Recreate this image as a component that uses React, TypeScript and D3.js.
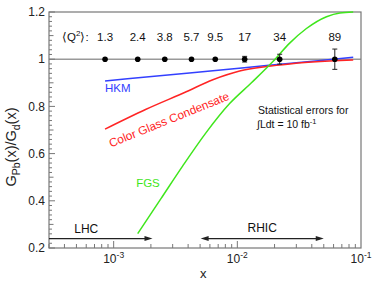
import React, { useRef, useEffect } from 'react';
import * as d3 from 'd3';

const width = 374;
const height = 282;
const margins = { top: 12, right: 13, bottom: 34, left: 49 };
const font = 'Liberation Sans, Arial, Helvetica, sans-serif';

// measured points, one per <Q^2> bin
const pointX = [8.52e-4, 1.565e-3, 2.59e-3, 4.26e-3, 6.63e-3, 0.01146, 0.022, 0.0614];
const pointY = [1, 1, 1, 1, 1, 1, 1, 1];
const pointErr = [0.003, 0.004, 0.005, 0.007, 0.009, 0.012, 0.021, 0.043];
const q2Labels = ['1.3', '2.4', '3.8', '5.7', '9.5', '17', '34', '89'];

// model curves
const hkmX = [8.52e-4, 4.1e-3, 0.0172, 0.0865];
const hkmY = [0.908, 0.942, 0.973, 1.008];

const cgcX = [8.52e-4, 1.81e-3, 3.86e-3, 6.34e-3, 0.01044, 0.01718, 0.02653, 0.0606, 0.0865];
const cgcY = [0.704, 0.787, 0.862, 0.913, 0.95, 0.969, 0.98, 0.993, 0.997];

const fgsX = [1.565e-3, 2.42e-3, 3.62e-3, 5.61e-3, 8.66e-3, 0.013, 0.0194, 0.0265, 0.0362, 0.0526, 0.0675, 0.0865];
const fgsY = [0.261, 0.41, 0.548, 0.69, 0.812, 0.9, 0.99, 1.068, 1.13, 1.18, 1.196, 1.2];

// kinematic ranges
const lhcRange = [3e-4, 2.06e-3];
const rhicRange = [5.05e-3, 0.05];
const rangeY = 0.24;

const yTicks = [0.2, 0.4, 0.6, 0.8, 1, 1.2];
const yTickLabels = ['0.2', '0.4', '0.6', '0.8', '1', '1.2'];
const xTicks = [1e-3, 1e-2, 1e-1];
const xTickExps = ['-3', '-2', '-1'];

const blue = '#3340ff';
const red = '#ff2424';
const green = '#3fe61c';

export default function App() {
  const ref = useRef(null);

  useEffect(() => {
    if (!ref.current) return;
    const svg = d3.select(ref.current);
    svg.selectAll('*').remove();

    const x0 = margins.left;
    const x1 = width - margins.right;
    const y0 = height - margins.bottom;
    const y1 = margins.top;

    const x = d3.scaleLog().domain([3e-4, 0.1]).range([x0, x1]);
    const y = d3.scaleLinear().domain([0.2, 1.2]).range([y0, y1]);

    const g = svg.append('g').style('font-family', font);

    // unity line
    g.append('line')
      .attr('x1', x0).attr('x2', x1)
      .attr('y1', y(1)).attr('y2', y(1))
      .attr('stroke', '#999').attr('stroke-width', 1.5);

    // frame
    g.append('rect')
      .attr('x', x0).attr('y', y1)
      .attr('width', x1 - x0).attr('height', y0 - y1)
      .attr('fill', 'none').attr('stroke', '#777').attr('stroke-width', 1.2);

    // y ticks (inward)
    const yMinor = d3.range(0.2, 1.2001, 0.02);
    yMinor.forEach((v) => {
      const k = Math.round(v * 50);
      const len = k % 10 === 0 ? 6 : k % 5 === 0 ? 4.5 : 3;
      g.append('line')
        .attr('x1', x0).attr('x2', x0 + len)
        .attr('y1', y(v)).attr('y2', y(v))
        .attr('stroke', '#777').attr('stroke-width', 1);
    });
    yTicks.forEach((v, i) => {
      g.append('text')
        .attr('x', x0 - 4).attr('y', y(v) + 4.2)
        .attr('text-anchor', 'end').attr('font-size', 12)
        .attr('fill', '#222')
        .text(yTickLabels[i]);
    });

    // x ticks (inward)
    const xMinor: number[] = [];
    [1e-4, 1e-3, 1e-2].forEach((d) => {
      for (let m = 1; m <= 9; m++) {
        const v = d * m;
        if (v >= 3e-4 && v <= 0.1) xMinor.push(v);
      }
    });
    xMinor.forEach((v) => {
      const major = Math.abs(Math.log10(v) - Math.round(Math.log10(v))) < 1e-6;
      g.append('line')
        .attr('x1', x(v)).attr('x2', x(v))
        .attr('y1', y0).attr('y2', y0 - (major ? 7 : 4))
        .attr('stroke', '#777').attr('stroke-width', 1);
    });
    xTicks.forEach((v, i) => {
      const t = g.append('text')
        .attr('x', x(v)).attr('y', y0 + 15)
        .attr('text-anchor', 'middle').attr('font-size', 12)
        .attr('fill', '#222');
      t.append('tspan').text('10');
      t.append('tspan').attr('font-size', 8.5).attr('dy', -5).text(xTickExps[i]);
    });

    // axis titles
    g.append('text')
      .attr('x', x(5.3e-3)).attr('y', height - 4)
      .attr('text-anchor', 'middle').attr('font-size', 13)
      .attr('fill', '#222').text('x');

    const yl = g.append('text')
      .attr('transform', `translate(16,147) rotate(-90)`)
      .attr('text-anchor', 'middle').attr('font-size', 14.5)
      .attr('fill', '#222');
    yl.append('tspan').text('G');
    yl.append('tspan').attr('font-size', 10.5).attr('dy', 4).text('Pb');
    yl.append('tspan').attr('dy', -4).text('(x)/G');
    yl.append('tspan').attr('font-size', 10.5).attr('dy', 4).text('d');
    yl.append('tspan').attr('dy', -4).text('(x)');

    // curves
    const line = d3.line<[number, number]>()
      .x((d) => x(d[0]))
      .y((d) => y(d[1]))
      .curve(d3.curveMonotoneX);

    const curves = [
      { xs: hkmX, ys: hkmY, color: blue },
      { xs: cgcX, ys: cgcY, color: red },
      { xs: fgsX, ys: fgsY, color: green },
    ];
    curves.forEach((c) => {
      g.append('path')
        .attr('d', line(c.xs.map((v, i) => [v, c.ys[i]] as [number, number])))
        .attr('fill', 'none').attr('stroke', c.color).attr('stroke-width', 1.5);
    });

    // points with error bars
    pointX.forEach((v, i) => {
      const px = x(v);
      const e = pointErr[i];
      if (y(pointY[i] - e) - y(pointY[i] + e) > 5) {
        g.append('line')
          .attr('x1', px).attr('x2', px)
          .attr('y1', y(pointY[i] - e)).attr('y2', y(pointY[i] + e))
          .attr('stroke', '#222').attr('stroke-width', 1);
        [pointY[i] - e, pointY[i] + e].forEach((yy) => {
          g.append('line')
            .attr('x1', px - 2.5).attr('x2', px + 2.5)
            .attr('y1', y(yy)).attr('y2', y(yy))
            .attr('stroke', '#222').attr('stroke-width', 1);
        });
      }
      g.append('circle')
        .attr('cx', px).attr('cy', y(pointY[i])).attr('r', 2.8)
        .attr('fill', '#000');
      g.append('text')
        .attr('x', px).attr('y', y(1.08) + 0.5)
        .attr('text-anchor', 'middle').attr('font-size', 11.5)
        .attr('fill', '#111').text(q2Labels[i]);
    });

    const ql = g.append('text')
      .attr('x', 62).attr('y', y(1.08) + 0.5)
      .attr('font-size', 11.5).attr('fill', '#111');
    ql.append('tspan').text('\u27E8Q');
    ql.append('tspan').attr('font-size', 8).attr('dy', -5).text('2');
    ql.append('tspan').attr('dy', 5).text('\u27E9:');

    // curve labels
    g.append('text')
      .attr('x', x(8.52e-4)).attr('y', y(0.86))
      .attr('font-size', 11.5).attr('fill', blue).text('HKM');
    g.append('text')
      .attr('transform', `translate(${x(9.5e-4)},${y(0.626)}) rotate(-22)`)
      .attr('font-size', 11.8).attr('fill', red).text('Color Glass Condensate');
    g.append('text')
      .attr('x', x(1.52e-3)).attr('y', y(0.46))
      .attr('font-size', 11.5).attr('fill', green).text('FGS');

    // statistics note
    g.append('text')
      .attr('x', 258).attr('y', 114)
      .attr('font-size', 10.5).attr('fill', '#111')
      .text('Statistical errors for');
    const lt = g.append('text')
      .attr('x', 257).attr('y', 128)
      .attr('font-size', 10.5).attr('fill', '#111');
    lt.append('tspan').text('\u222BLdt = 10 fb');
    lt.append('tspan').attr('font-size', 7.5).attr('dy', -4).text('-1');

    // range arrows
    const arrowHead = (xt: number, yt: number, dir: number) => {
      g.append('path')
        .attr('d', `M${xt},${yt}L${xt - dir * 8},${yt - 2.5}L${xt - dir * 8},${yt + 2.5}Z`)
        .attr('fill', '#222');
    };
    const ay = y(rangeY);
    g.append('line')
      .attr('x1', x(lhcRange[0])).attr('x2', x(lhcRange[1]) - 4)
      .attr('y1', ay).attr('y2', ay)
      .attr('stroke', '#222').attr('stroke-width', 1.2);
    arrowHead(x(lhcRange[1]), ay, 1);
    g.append('text')
      .attr('x', (x(6e-4))).attr('y', ay - 6)
      .attr('text-anchor', 'middle').attr('font-size', 12)
      .attr('fill', '#111').text('LHC');

    g.append('line')
      .attr('x1', x(rhicRange[0]) + 4).attr('x2', x(rhicRange[1]) - 4)
      .attr('y1', ay).attr('y2', ay)
      .attr('stroke', '#222').attr('stroke-width', 1.2);
    arrowHead(x(rhicRange[1]), ay, 1);
    arrowHead(x(rhicRange[0]), ay, -1);
    g.append('text')
      .attr('x', x(Math.sqrt(rhicRange[0] * rhicRange[1]))).attr('y', ay - 7)
      .attr('text-anchor', 'middle').attr('font-size', 12)
      .attr('fill', '#111').text('RHIC');
  }, []);

  return (
    <div style={{ position: 'absolute', left: 0, top: 0 }}>
      <svg ref={ref} width={width} height={height} style={{ display: 'block', background: '#fff' }} />
    </div>
  );
}
